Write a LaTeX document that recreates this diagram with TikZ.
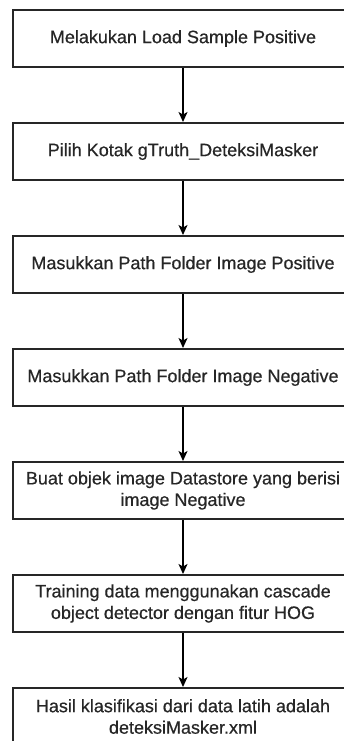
\documentclass[tikz,border=0pt]{standalone}
\usepackage{fontspec}
\setmainfont{Liberation Sans}
\newfontfamily\boxfont[BoldFont=Liberation Sans,BoldFeatures={FakeBold=0.5}]{Liberation Sans}
\usetikzlibrary{arrows.meta}
\begin{document}
\begin{tikzpicture}[x=1pt,y=-1pt,
  stepbox/.style={draw=black!85,line width=2pt,fill=white,minimum width=340pt,minimum height=57pt,
    inner sep=0pt,align=center,font=\boxfont\bfseries\fontsize{18pt}{21.5pt}\selectfont,text=black!85},
  flow/.style={line width=1.3pt,draw=black,-{Stealth[length=10pt,width=9pt,inset=2.5pt]}}]
\useasboundingbox (0,0) rectangle (344,741);
\clip (0,0) rectangle (344,741);
\fill[white] (0,0) rectangle (344,741);
\node[stepbox] (b1) at (183,38.5) {Melakukan Load Sample Positive};
\node[stepbox] (b2) at (183,151.5) {Pilih Kotak gTruth\_DeteksiMasker};
\node[stepbox] (b3) at (183,264.5) {Masukkan Path Folder Image Positive};
\node[stepbox] (b4) at (183,377.5) {Masukkan Path Folder Image Negative};
\node[stepbox] (b5) at (183,490.5) {Buat objek image Datastore yang berisi\\image Negative};
\node[stepbox] (b6) at (183,603.5) {Training data menggunakan cascade\\object detector dengan fitur HOG};
\node[stepbox] (b7) at (183,716.5) {Hasil klasifikasi dari data latih adalah\\deteksiMasker.xml};
\draw[flow] (b1) -- (b2);
\draw[flow] (b2) -- (b3);
\draw[flow] (b3) -- (b4);
\draw[flow] (b4) -- (b5);
\draw[flow] (b5) -- (b6);
\draw[flow] (b6) -- (b7);
\end{tikzpicture}
\end{document}
